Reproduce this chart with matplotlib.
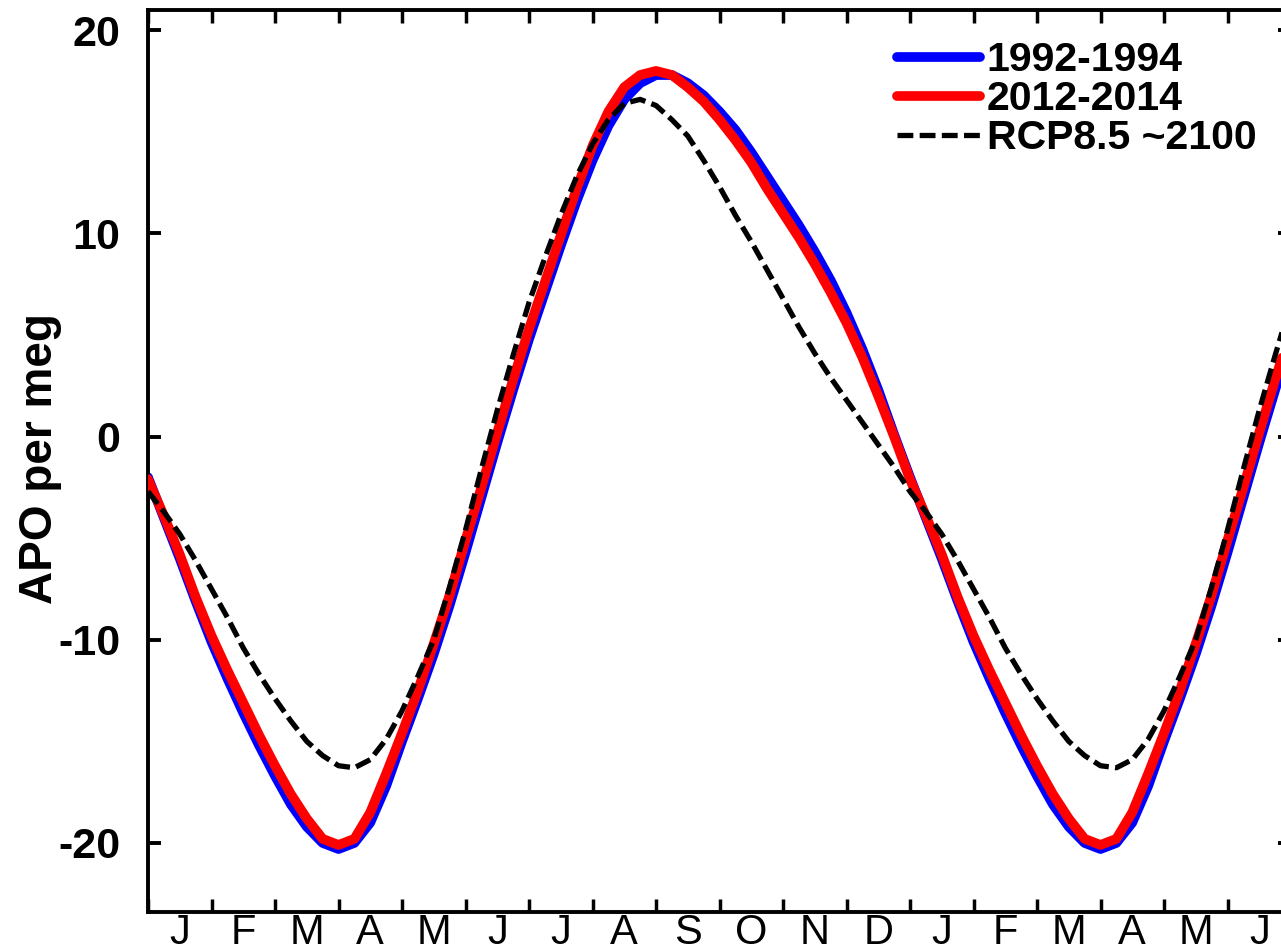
import numpy as np
import matplotlib
matplotlib.use('Agg')
import matplotlib.pyplot as plt
from matplotlib.ticker import FixedLocator, FixedFormatter, NullFormatter

plt.rcParams['font.family'] = ['Liberation Sans', 'DejaVu Sans']

# ---- data (quarter-month resolution, 18 months) ----
month_labels = ['J', 'F', 'M', 'A', 'M', 'J', 'J', 'A', 'S', 'O', 'N', 'D',
                'J', 'F', 'M', 'A', 'M', 'J']
t_months = np.arange(73) * 0.25  # months since 1 January

apo_1992_1994 = [
    -2.0, -4.0, -6.0, -8.1, -10.1, -11.9, -13.6, -15.2, -16.7, -18.1, -19.2, -20.0,
    -20.3, -20.0, -19.0, -17.2, -15.0, -12.9, -10.7, -8.3, -5.7, -3.0, -0.3, 2.3,
    4.8, 7.1, 9.4, 11.6, 13.6, 15.3, 16.6, 17.4, 17.8, 17.8, 17.4, 16.8,
    16.0, 15.1, 14.0, 12.8, 11.6, 10.4, 9.1, 7.7, 6.1, 4.3, 2.3, 0.1,
    -2.0, -4.0, -6.0, -8.1, -10.1, -11.9, -13.6, -15.2, -16.7, -18.1, -19.2, -20.0,
    -20.3, -20.0, -19.0, -17.2, -15.0, -12.9, -10.7, -8.3, -5.7, -3.0, -0.3, 2.3,
    4.8]

apo_2012_2014 = [
    -2.1, -3.9, -5.8, -7.9, -9.8, -11.5, -13.1, -14.7, -16.2, -17.6, -18.8, -19.8,
    -20.1, -19.8, -18.5, -16.6, -14.6, -12.5, -10.2, -7.8, -5.1, -2.5, 0.2, 2.8,
    5.3, 7.6, 9.9, 12.2, 14.3, 16.0, 17.2, 17.8, 18.0, 17.8, 17.2, 16.5,
    15.6, 14.6, 13.5, 12.2, 11.0, 9.8, 8.5, 7.1, 5.6, 3.9, 2.0, 0.0,
    -2.1, -3.9, -5.8, -7.9, -9.8, -11.5, -13.1, -14.7, -16.2, -17.6, -18.8, -19.8,
    -20.1, -19.8, -18.5, -16.6, -14.6, -12.5, -10.2, -7.8, -5.1, -2.5, 0.2, 2.8,
    5.3]

apo_rcp85_2100 = [
    -2.7, -3.7, -4.8, -6.1, -7.5, -8.9, -10.4, -11.7, -12.9, -14.0, -15.0, -15.7,
    -16.2, -16.3, -15.9, -14.9, -13.5, -11.8, -10.0, -7.4, -4.6, -1.6, 1.3, 4.0,
    6.6, 8.8, 10.9, 12.8, 14.4, 15.6, 16.4, 16.6, 16.3, 15.6, 14.8, 13.6,
    12.3, 10.9, 9.6, 8.2, 6.8, 5.4, 4.1, 2.9, 1.8, 0.7, -0.4, -1.5,
    -2.7, -3.7, -4.8, -6.1, -7.5, -8.9, -10.4, -11.7, -12.9, -14.0, -15.0, -15.7,
    -16.2, -16.3, -15.9, -14.9, -13.5, -11.8, -10.0, -7.4, -4.6, -1.6, 1.3, 4.0,
    6.6]

series_labels = ['1992-1994', '2012-2014', 'RCP8.5 ~2100']
y_ticks = [-20, -10, 0, 10, 20]
y_tick_labels = ['-20', '-10', '0', '10', '20']

# ---- figure ----
fig = plt.figure(figsize=(12.81, 9.50), dpi=100)
ax = fig.add_axes([148 / 1281, 38 / 950, 1143 / 1281, 902 / 950])

ax.plot(t_months, apo_1992_1994, color='#0000ff', lw=7.0,
        solid_joinstyle='round', solid_capstyle='round',
        label=series_labels[0], zorder=2)
ax.plot(t_months, apo_2012_2014, color='#ff0000', lw=7.0,
        solid_joinstyle='round', solid_capstyle='round',
        label=series_labels[1], zorder=3)
ax.plot(t_months, apo_rcp85_2100, color='black', lw=3.8, dashes=(3.0, 1.2),
        label=series_labels[2], zorder=4)

ax.set_xlim(0, 18)
ax.set_ylim(-23.4, 21.0)

# x: month boundaries as ticks, month letters centred between them
ax.xaxis.set_major_locator(FixedLocator(np.arange(0, 19)))
ax.xaxis.set_major_formatter(NullFormatter())
ax.xaxis.set_minor_locator(FixedLocator(np.arange(18) + 0.5))
ax.xaxis.set_minor_formatter(FixedFormatter(month_labels))
ax.tick_params(axis='x', which='major', direction='in', length=9.5, width=2.5,
               top=True, bottom=True)
ax.tick_params(axis='x', which='minor', length=0, labelsize=30, pad=1,
               top=False)

ax.yaxis.set_major_locator(FixedLocator(y_ticks))
ax.yaxis.set_major_formatter(FixedFormatter(y_tick_labels))
ax.tick_params(axis='y', which='major', direction='in', length=9.5, width=2.8,
               left=True, right=True, labelsize=31, pad=20)
for lbl in ax.get_yticklabels():
    lbl.set_fontweight('bold')

for sp in ax.spines.values():
    sp.set_linewidth(2.8)

ax.set_ylabel('APO per meg', fontsize=33, fontweight='bold')
ax.yaxis.set_label_coords(-0.075, 0.503)

ax.legend(loc='upper left', bbox_to_anchor=(897 / 1281, 1 - 41 / 950),
          bbox_transform=fig.transFigure, frameon=False,
          prop={'weight': 'bold', 'size': 29.5}, handlelength=2.02,
          handletextpad=0.17, labelspacing=0.03, borderpad=0, borderaxespad=0)

fig.savefig('out.png', dpi=100)
